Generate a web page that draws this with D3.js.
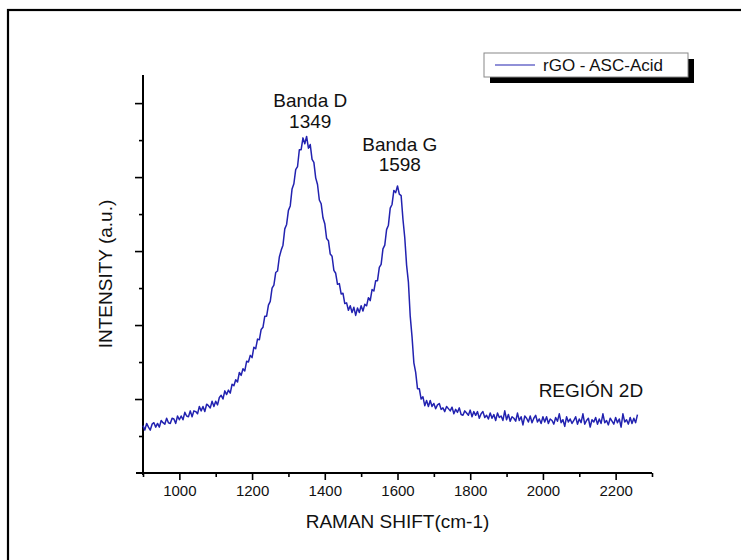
<!DOCTYPE html>
<html><head><meta charset="utf-8">
<script src="https://cdnjs.cloudflare.com/ajax/libs/d3/7.8.5/d3.min.js"></script>
<style>html,body{margin:0;padding:0;background:#fff;}svg{display:block;}</style>
</head><body>
<script>
const ramanShift = [
900,905,910,915,920,925,930,935,940,945,950,955,960,965,970,975,980,985,990,995,
1000,1005,1010,1015,1020,1025,1030,1035,1040,1045,1050,1055,1060,1065,1070,1075,1080,1085,1090,1095,
1100,1105,1110,1115,1120,1125,1130,1135,1140,1145,1150,1155,1160,1165,1170,1175,1180,1185,1190,1195,
1200,1205,1210,1215,1220,1225,1230,1235,1240,1245,1250,1255,1260,1265,1270,1275,1280,1285,1290,1295,
1300,1305,1310,1315,1320,1325,1330,1335,1340,1345,1350,1355,1360,1365,1370,1375,1380,1385,1390,1395,
1400,1405,1410,1415,1420,1425,1430,1435,1440,1445,1450,1455,1460,1465,1470,1475,1480,1485,1490,1495,
1500,1505,1510,1515,1520,1525,1530,1535,1540,1545,1550,1555,1560,1565,1570,1575,1580,1585,1590,1595,
1600,1605,1610,1615,1620,1625,1630,1635,1640,1645,1650,1655,1660,1665,1670,1675,1680,1685,1690,1695,
1700,1705,1710,1715,1720,1725,1730,1735,1740,1745,1750,1755,1760,1765,1770,1775,1780,1785,1790,1795,
1800,1805,1810,1815,1820,1825,1830,1835,1840,1845,1850,1855,1860,1865,1870,1875,1880,1885,1890,1895,
1900,1905,1910,1915,1920,1925,1930,1935,1940,1945,1950,1955,1960,1965,1970,1975,1980,1985,1990,1995,
2000,2005,2010,2015,2020,2025,2030,2035,2040,2045,2050,2055,2060,2065,2070,2075,2080,2085,2090,2095,
2100,2105,2110,2115,2120,2125,2130,2135,2140,2145,2150,2155,2160,2165,2170,2175,2180,2185,2190,2195,
2200,2205,2210,2215,2220,2225,2230,2235,2240,2245,2250,2255,2260];
const intensity = [
0.64,0.58,0.67,0.62,0.58,0.66,0.68,0.62,0.67,0.62,0.71,0.68,0.66,0.74,0.68,0.67,0.74,0.73,0.67,0.77,
0.72,0.77,0.72,0.82,0.77,0.76,0.84,0.76,0.84,0.83,0.80,0.90,0.84,0.90,0.83,0.93,0.91,0.88,0.97,0.90,
0.97,0.92,1.02,1.05,1.00,1.11,1.06,1.12,1.08,1.20,1.18,1.26,1.23,1.36,1.32,1.41,1.38,1.51,1.50,1.59,
1.56,1.70,1.68,1.81,1.80,1.94,1.97,2.12,2.12,2.27,2.32,2.50,2.54,2.71,2.73,2.92,3.01,3.08,3.30,3.36,
3.55,3.61,3.84,3.91,4.10,4.14,4.37,4.37,4.53,4.45,4.55,4.39,4.44,4.24,4.20,3.99,3.90,3.69,3.64,3.45,
3.37,3.17,3.14,2.96,2.93,2.74,2.70,2.55,2.56,2.42,2.43,2.29,2.30,2.20,2.26,2.17,2.24,2.13,2.23,2.17,
2.26,2.19,2.28,2.26,2.37,2.33,2.48,2.46,2.60,2.60,2.78,2.82,3.03,3.08,3.29,3.35,3.58,3.63,3.82,3.79,
3.88,3.77,3.75,3.43,3.18,2.81,2.58,2.12,1.84,1.49,1.36,1.14,1.14,1.00,1.03,0.91,0.98,0.90,0.98,0.90,
0.94,0.87,0.92,0.94,0.86,0.88,0.83,0.90,0.87,0.84,0.89,0.80,0.86,0.82,0.88,0.79,0.78,0.84,0.81,0.78,
0.85,0.76,0.83,0.78,0.83,0.74,0.80,0.83,0.75,0.78,0.73,0.81,0.74,0.79,0.71,0.81,0.75,0.77,0.71,0.84,
0.72,0.79,0.70,0.76,0.74,0.70,0.81,0.71,0.76,0.65,0.77,0.74,0.69,0.77,0.68,0.74,0.78,0.69,0.73,0.67,
0.76,0.69,0.76,0.67,0.73,0.71,0.66,0.75,0.70,0.80,0.68,0.72,0.63,0.76,0.69,0.73,0.67,0.71,0.76,0.66,
0.73,0.68,0.80,0.66,0.71,0.74,0.62,0.72,0.69,0.75,0.66,0.73,0.67,0.80,0.68,0.71,0.65,0.74,0.70,0.66,
0.75,0.68,0.73,0.62,0.80,0.69,0.72,0.66,0.75,0.67,0.74,0.68,0.79];
const xMajorTicks = [1000,1200,1400,1600,1800,2000,2200];
const xMinorTicks = [900,1100,1300,1500,1700,1900,2100,2300];
const yMajorTicks = [1,2,3,4,5];
const yMinorTicks = [0.5,1.5,2.5,3.5,4.5];
const annotations = [
  {x:1349, y:4.55, label:"Banda D", value:"1349"},
  {x:1598, y:3.88, label:"Banda G", value:"1598"}
];
const seriesName = "rGO - ASC-Acid";
const regionLabel = "REGIÓN 2D";

const W = 741, H = 560;
const FONT = "'Liberation Sans', Arial, sans-serif";
const LINE_COLOR = "#2222b0";
const svg = d3.select("body").append("svg").attr("width", W).attr("height", H);
svg.append("rect").attr("width", W).attr("height", H).attr("fill", "#fff");

// outer frame
svg.append("rect").attr("x", 8).attr("y", 10).attr("width", W + 20).attr("height", H + 20)
  .attr("fill", "none").attr("stroke", "#000").attr("stroke-width", 2.2);

const x = d3.scaleLinear().domain([900, 2300]).range([143, 652]);
const y = d3.scaleLinear().domain([0, 5.38]).range([473, 75]);

// axes
const gx = svg.append("g").attr("transform", `translate(0,${y(0)})`)
  .call(d3.axisBottom(x).tickValues(xMajorTicks).tickSize(7).tickPadding(5).tickFormat(d3.format("d")));
gx.select(".domain").remove();
gx.selectAll("text").attr("font-family", FONT).attr("font-size", 15).attr("fill", "#111");
gx.selectAll("line").attr("stroke", "#000").attr("stroke-width", 1.6);
const gxm = svg.append("g").attr("transform", `translate(0,${y(0)})`)
  .call(d3.axisBottom(x).tickValues(xMinorTicks).tickSize(4).tickFormat(""));
gxm.select(".domain").remove();
gxm.selectAll("line").attr("stroke", "#000").attr("stroke-width", 1.6);

const gy = svg.append("g").attr("transform", `translate(${x(900)},0)`)
  .call(d3.axisLeft(y).tickValues(yMajorTicks).tickSize(8).tickFormat(""));
gy.select(".domain").remove();
gy.selectAll("line").attr("stroke", "#000").attr("stroke-width", 1.6);
const gym = svg.append("g").attr("transform", `translate(${x(900)},0)`)
  .call(d3.axisLeft(y).tickValues(yMinorTicks).tickSize(4).tickFormat(""));
gym.select(".domain").remove();
gym.selectAll("line").attr("stroke", "#000").attr("stroke-width", 1.6);

// axis lines
svg.append("line").attr("x1", x(900) - 7).attr("x2", x(2300)).attr("y1", y(0)).attr("y2", y(0))
  .attr("stroke", "#000").attr("stroke-width", 2);
svg.append("line").attr("x1", x(900)).attr("x2", x(900)).attr("y1", y(5.38)).attr("y2", y(0) + 2)
  .attr("stroke", "#000").attr("stroke-width", 2);

// data line
const line = d3.line().x((d, i) => x(ramanShift[i])).y(d => y(d));
svg.append("path").datum(intensity).attr("d", line)
  .attr("fill", "none").attr("stroke", LINE_COLOR).attr("stroke-width", 1.5).attr("stroke-linejoin", "round");

// annotations
annotations.forEach((a, i) => {
  const cx = x(a.x) + (i === 0 ? 4 : 3);
  const off = i === 0 ? [29, 8] : [35, 15];
  const t = svg.append("text").attr("font-family", FONT).attr("font-size", 19).attr("fill", "#111")
    .attr("text-anchor", "middle");
  t.append("tspan").attr("x", cx).attr("y", y(a.y) - off[0]).text(a.label);
  t.append("tspan").attr("x", cx).attr("y", y(a.y) - off[1]).text(a.value);
});

svg.append("text").attr("x", x(2132)).attr("y", y(1.03)).attr("text-anchor", "middle")
  .attr("font-family", FONT).attr("font-size", 19).attr("fill", "#111").text(regionLabel);

// axis titles
svg.append("text").attr("x", (x(900) + x(2300)) / 2).attr("y", 528).attr("text-anchor", "middle")
  .attr("font-family", FONT).attr("font-size", 19).attr("fill", "#111").text("RAMAN SHIFT(cm-1)");
svg.append("text").attr("transform", `translate(112,${(y(0) + y(5.38)) / 2}) rotate(-90)`).attr("text-anchor", "middle")
  .attr("font-family", FONT).attr("font-size", 19).attr("fill", "#111").text("INTENSITY (a.u.)");

// legend
const lg = svg.append("g").attr("transform", "translate(484,53)");
lg.append("rect").attr("x", 6).attr("y", 6).attr("width", 204).attr("height", 24).attr("fill", "#000");
lg.append("rect").attr("x", 0).attr("y", 0).attr("width", 204).attr("height", 24)
  .attr("fill", "#fff").attr("stroke", "#888").attr("stroke-width", 1);
lg.append("line").attr("x1", 11).attr("x2", 51).attr("y1", 12).attr("y2", 12)
  .attr("stroke", LINE_COLOR).attr("stroke-width", 1.2);
lg.append("text").attr("x", 59).attr("y", 18).attr("font-family", FONT).attr("font-size", 17)
  .attr("fill", "#111").text(seriesName);
</script>
</body></html>
